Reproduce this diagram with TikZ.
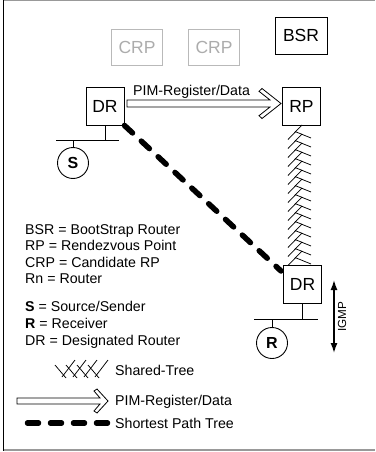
\documentclass[tikz,border=0pt]{standalone}
\usepackage{fontspec}
\setmainfont{Liberation Sans}
\usetikzlibrary{arrows.meta}
\begin{document}
\begin{tikzpicture}[x=1pt,y=-1pt,
  router/.style={draw=black,line width=0.9pt,minimum width=38pt,minimum height=38pt,inner sep=0pt,font=\fontsize{17.5}{20}\selectfont},
  cand/.style={draw=gray!55,text=gray!65,line width=0.9pt,minimum width=51pt,minimum height=36pt,inner sep=0pt,font=\fontsize{17.5}{20}\selectfont},
  host/.style={draw,circle,line width=0.9pt,minimum size=31pt,inner sep=0pt,font=\bfseries\fontsize{16}{18}\selectfont},
  legend/.style={anchor=base west,inner sep=0pt,font=\fontsize{14.2}{17}\selectfont},
  lan/.style={line width=0.9pt},
  spt/.style={line width=5.5pt,line cap=round,dash pattern=on 11pt off 12pt},
  tree/.style={line width=0.75pt},
  pim/.style={line width=0.8pt,fill=white,line join=miter},
  frameline/.style={line width=1.5pt,draw=gray!80}
]
\useasboundingbox (0,0) rectangle (375,452);
% frame
\draw[frameline] (3,0.75) -- (375,0.75);
\draw[frameline] (3,450) -- (375,450);
\draw[line width=1pt] (3,0) -- (3,450.75);

% routers
\node[cand] (crp1) at (137,47) {CRP};
\node[cand] (crp2) at (214,47) {CRP};
\node[router,minimum width=52pt,minimum height=37pt] (bsr) at (301,35.5) {BSR};
\node[router] (dr1) at (105,106) {DR};
\node[router] (rp) at (301.5,106) {RP};
\node[router] (dr2) at (302.5,284.5) {DR};

% LAN at source
\coordinate (lan1l) at (56,140);
\coordinate (lan1r) at (119,140);
\node[host] (s) at (73,163) {S};
\draw[lan] (lan1l) -- (lan1r);
\draw[lan] (dr1.south) -- (dr1.south |- lan1l);
\draw[lan] (s.north) -- (s.north |- lan1l);

% LAN at receiver
\coordinate (lan2l) at (254,319);
\coordinate (lan2r) at (318,319);
\node[host] (r) at (272,343) {R};
\draw[lan] (lan2l) -- (lan2r);
\draw[lan] (dr2.south) -- (dr2.south |- lan2l);
\draw[lan] (r.north) -- (r.north |- lan2l);

% PIM register arrow
\draw[pim] (127,100) -- (270,100) -- (259,91.3) -- (262,88.5) -- (281,103.5)
  -- (262,118.5) -- (259,115.7) -- (270,107) -- (127,107) -- cycle;
\node[anchor=base west,inner sep=0pt,font=\fontsize{14.2}{17}\selectfont] (pimlabel) at (133,95.7) {PIM-Register/Data};

% shortest path tree
\coordinate (sptend) at (281,271);
\draw[spt] (dr1.south east) -- (sptend);

% shared tree
\foreach \k in {0,...,14}{
  \pgfmathsetmacro{\yy}{125+9*\k}
  \draw[tree] (302,\yy) -- (288,\yy+14.5);
  \draw[tree] (295,\yy+6.5) -- (311,\yy+13);
}

% IGMP
\coordinate (igt) at (334,280);
\coordinate (igb) at (334,353);
\draw[{Latex[length=10pt,width=7pt]}-{Latex[length=10pt,width=7pt]},line width=1.4pt] (igt) -- (igb);
\node[rotate=90,inner sep=0pt,font=\fontsize{11.7}{13}\selectfont] (igmp) at (342,317) {IGMP};

% legend
\node[legend] (l1) at (25,234.3) {BSR = BootStrap Router};
\node[legend] (l2) at (25,250.5) {RP = Rendezvous Point};
\node[legend] (l3) at (25,267) {CRP = Candidate RP};
\node[legend] (l4) at (25,283.5) {Rn = Router};
\node[legend] (l5) at (25,311.7) {\textbf{S} = Source/Sender};
\node[legend] (l6) at (25,328.3) {\textbf{R} = Receiver};
\node[legend] (l7) at (25,345) {DR = Designated Router};

\foreach \i in {0,...,3}{
  \pgfmathsetmacro{\xx}{62+11*\i}
  \draw[tree] (\xx,377) -- (\xx+13,360);
  \draw[tree] (\xx-7,365) -- (\xx+4,378);
}
\node[legend] (lg1) at (115,375) {Shared-Tree};

\draw[pim] (17,398) -- (100,398) -- (94,391) -- (97,389) -- (108,401)
  -- (97,413) -- (94,411) -- (100,404) -- (17,404) -- cycle;
\node[legend] (lg2) at (115,405) {PIM-Register/Data};

\coordinate (sl) at (27.5,423);
\coordinate (sr) at (109,423);
\draw[spt] (sl) -- (sr);
\node[legend] (lg3) at (115,428.3) {Shortest Path Tree};
\end{tikzpicture}
\end{document}
